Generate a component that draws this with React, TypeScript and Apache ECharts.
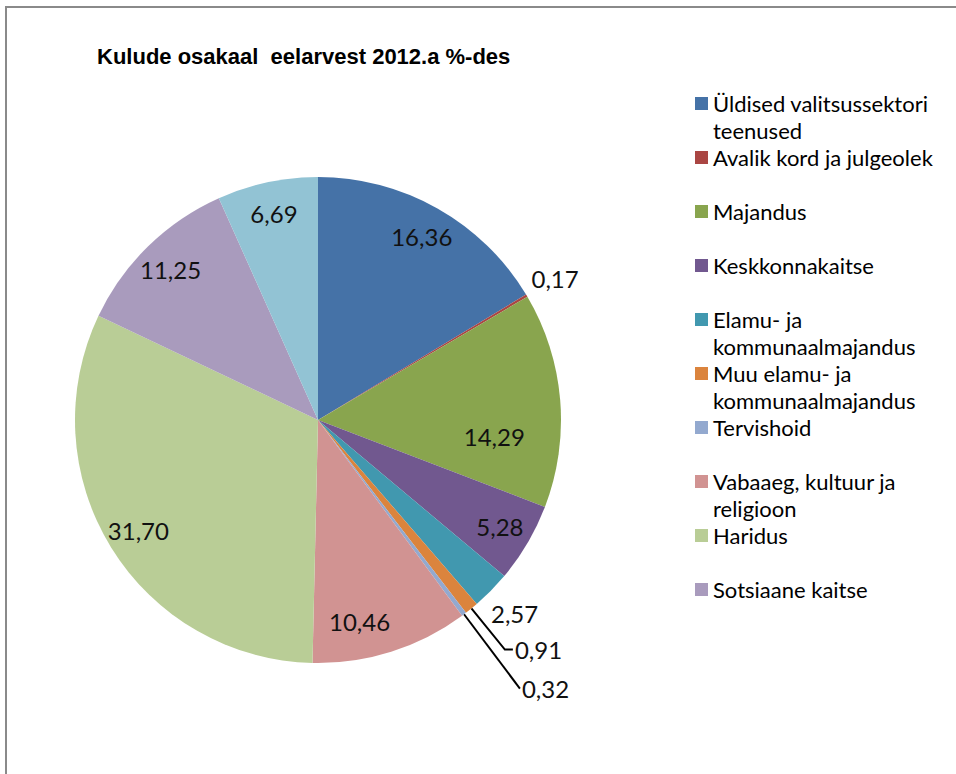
import React, { useEffect, useRef } from "react";
import * as echarts from "echarts";

const categories = [
  "Üldised valitsussektori teenused",
  "Avalik kord ja julgeolek",
  "Majandus",
  "Keskkonnakaitse",
  "Elamu- ja kommunaalmajandus",
  "Muu elamu- ja kommunaalmajandus",
  "Tervishoid",
  "Vabaaeg, kultuur ja religioon",
  "Haridus",
  "Sotsiaane kaitse",
  "Muud",
];

const legendLines = [
  ["Üldised valitsussektori", "teenused"],
  ["Avalik kord ja julgeolek"],
  ["Majandus"],
  ["Keskkonnakaitse"],
  ["Elamu- ja", "kommunaalmajandus"],
  ["Muu elamu- ja", "kommunaalmajandus"],
  ["Tervishoid"],
  ["Vabaaeg, kultuur ja", "religioon"],
  ["Haridus"],
  ["Sotsiaane kaitse"],
];

const values = [16.36, 0.17, 14.29, 5.28, 2.57, 0.91, 0.32, 10.46, 31.7, 11.25, 6.69];

const colors = [
  "#4572A7", "#AA4643", "#89A54E", "#71588F", "#4198AF", "#DB843D",
  "#93A9CF", "#D19392", "#B9CD96", "#A99BBD", "#92C3D4",
];

const titleText = "Kulude osakaal  eelarvest 2012.a %-des";

// which slices get which kind of label
const innerLabelIdx = [0, 2, 3, 7, 8, 9, 10];
const rimLabelIdx = [1, 4];
const leaderIdx: Record<number, [number, number]> = { 5: [53, 8], 6: [93, 0] };
const labelNudge: Record<number, { dx: number; dy: number }> = {
  2: { dx: -34, dy: 34 },
  7: { dx: -22, dy: 0 },
};

const fmt = (v: number) => v.toFixed(2).replace(".", ",");

const CENTER = [318, 420];
const R = 243;
const FONT = "Lato, 'Open Sans', sans-serif";
const BLANK = "\u00a0";

export default function App() {
  const ref = useRef<HTMLDivElement>(null);
  useEffect(() => {
    if (!ref.current) return;
    const chart = echarts.init(ref.current, undefined, { renderer: "svg" });
    const labelText = { color: "#111", fontFamily: FONT, fontSize: 24 };

    const mainData = values.map((v, i) => {
      const lead = leaderIdx[i];
      return {
        name: categories[i],
        value: v,
        itemStyle: { color: colors[i] },
        label: lead
          ? { show: true, position: "outside", formatter: fmt(v), distanceToLabelLine: 2, ...labelText }
          : { show: false },
        labelLine: lead
          ? { show: true, length: lead[0], length2: lead[1], smooth: false, lineStyle: { color: "#000", width: 2 } }
          : { show: false },
      };
    });

    const labelSeries = (idx: number[], radius: number[], nudge: boolean) => ({
      type: "pie",
      center: CENTER,
      radius,
      startAngle: 90,
      clockwise: true,
      silent: true,
      legendHoverLink: false,
      avoidLabelOverlap: false,
      emphasis: { disabled: true },
      itemStyle: { color: "transparent", borderWidth: 0 },
      labelLine: { show: false },
      labelLayout: nudge
        ? (p: any) => labelNudge[p.dataIndex] || {}
        : undefined,
      data: values.map((v, i) => ({
        name: categories[i],
        value: v,
        itemStyle: { color: "transparent" },
        label: idx.includes(i)
          ? { show: true, position: "inside", formatter: fmt(v), ...labelText }
          : { show: false },
      })),
    });

    chart.setOption({
      animation: false,
      backgroundColor: "#fff",
      title: {
        text: titleText,
        left: 92,
        top: 40,
        textStyle: {
          fontFamily: "'Liberation Sans Narrow', 'Arial Narrow', 'Liberation Sans', sans-serif",
          fontWeight: "bold",
          fontSize: 22,
          color: "#000",
        },
      },
      legend: {
        orient: "vertical",
        left: 690,
        top: 58,
        itemGap: -27,
        itemWidth: 13,
        itemHeight: 13,
        icon: "rect",
        selectedMode: false,
        data: categories.slice(0, legendLines.length),
        formatter: (name: string) => {
          const l = legendLines[categories.indexOf(name)];
          return [BLANK, l[0], l[1] || BLANK].join("\n");
        },
        textStyle: {
          fontFamily: FONT,
          fontSize: 22,
          lineHeight: 27,
          color: "#000",
        },
      },
      graphic: [
        {
          type: "polyline",
          shape: { points: [[6, 774], [6, 7], [956, 7]] },
          style: { stroke: "#8a8a8a", lineWidth: 2, fill: null },
          silent: true,
        },
      ],
      series: [
        {
          type: "pie",
          center: CENTER,
          radius: [0, R],
          startAngle: 90,
          clockwise: true,
          avoidLabelOverlap: false,
          emphasis: { disabled: true },
          itemStyle: { borderWidth: 0 },
          data: mainData,
        },
        labelSeries(innerLabelIdx, [200, 216], true),
        labelSeries(rimLabelIdx, [265, 281], false),
      ],
    });
    return () => chart.dispose();
  }, []);
  return (
    <div
      ref={ref}
      style={{ position: "fixed", left: 0, top: 0, width: 956, height: 774 }}
    />
  );
}
